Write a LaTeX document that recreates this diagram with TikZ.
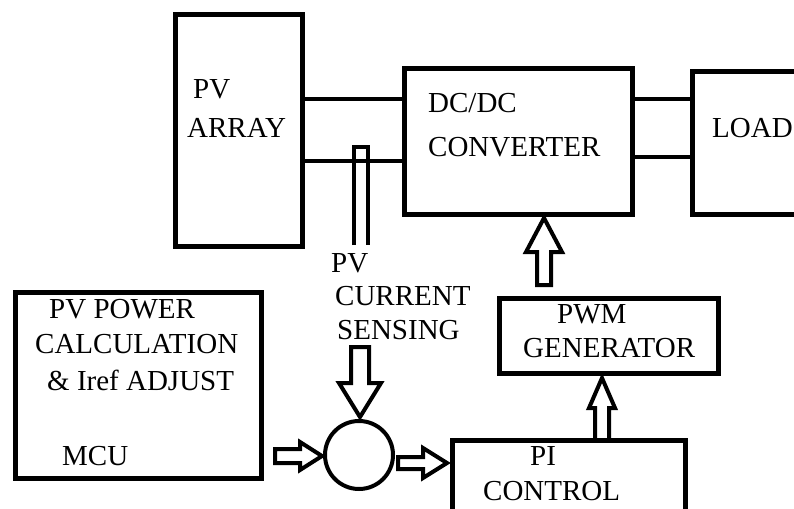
\documentclass[tikz,border=0pt]{standalone}
\usepackage{fontspec}
\setmainfont{Liberation Serif}
\usepackage{tikz}
\usetikzlibrary{positioning}

\tikzset{
  block/.style={draw, line width=5pt, inner sep=0pt},
  wire/.style={line width=4pt},
  fat/.style={line width=4pt, line join=miter, fill=white},
  txt/.style={anchor=base west, inner sep=0pt, font=\fontsize{29}{34}\selectfont},
  pics/fatarrow/.style args={#1/#2/#3/#4}{code={
    \draw[fat] (0,-#2) -- (#1-#4,-#2) -- (#1-#4,-#3) -- (#1,0) -- (#1-#4,#3) -- (#1-#4,#2) -- (0,#2) -- cycle;
  }}
}

\begin{document}
\begin{tikzpicture}[x=1pt, y=-1pt]
\clip (0,0) rectangle (794,508);
\fill[white] (0,0) rectangle (794,508);

% blocks
\node[block, minimum width=127pt, minimum height=231pt] (pv) at (238.5,130.5) {};
\node[block, minimum width=228pt, minimum height=145pt] (dc) at (518,141.5) {};
\node[block, minimum width=130pt, minimum height=142pt] (load) at (757,143) {};
\node[block, minimum width=246pt, minimum height=186pt] (mcu) at (138,385) {};
\node[block, minimum width=219pt, minimum height=75pt] (pwm) at (608.5,335.5) {};
\node[block, minimum width=233pt, minimum height=90pt] (pi) at (568.5,485) {};
\node[draw, line width=4pt, circle, minimum size=68pt, inner sep=0pt] (sum) at (359,455) {};

% texts
\node[txt] (pvA) at (193,99) {PV};
\node[txt] (pvB) at (187,137) {ARRAY};
\node[txt] (dcA) at (428,113) {DC/DC};
\node[txt] (dcB) at (428,156) {CONVERTER};
\node[txt] (ldA) at (712,137) {LOAD};
\node[txt] (snA) at (331,272) {PV};
\node[txt] (snB) at (335,305) {CURRENT};
\node[txt] (snC) at (337,339) {SENSING};
\node[txt] (mcA) at (49,318) {PV POWER};
\node[txt] (mcB) at (35,353) {CALCULATION};
\node[txt] (mcC) at (47,390) {\& Iref ADJUST};
\node[txt] (mcD) at (62,465) {MCU};
\node[txt] (pwA) at (557,323) {PWM};
\node[txt] (pwB) at (523,357) {GENERATOR};
\node[txt] (piA) at (530,465) {PI};
\node[txt] (piB) at (483,500) {CONTROL};

% power lines
\draw[wire] (pv.east |- 0,99) -- (dc.west |- 0,99);
\draw[wire] (pv.east |- 0,161) -- (dc.west |- 0,161);
\draw[wire] (dc.east |- 0,99) -- (load.west |- 0,99);
\draw[wire] (dc.east |- 0,157) -- (load.west |- 0,157);

% current sensing
\draw[wire, line join=miter] (354,245) -- (354,147) -- (368,147) -- (368,245);
\pic[rotate=-90] at (360,347) {fatarrow=70/9/21/34};

% hollow arrows
\pic at (275,456) {fatarrow=47/7/14/22};
\pic at (398,463) {fatarrow=49/6/15/24};
\pic[rotate=90] at (544,285) {fatarrow=67/7/18/34};
\pic[rotate=90] at (602,440) {fatarrow=62/7/13/30};

\end{tikzpicture}
\end{document}
